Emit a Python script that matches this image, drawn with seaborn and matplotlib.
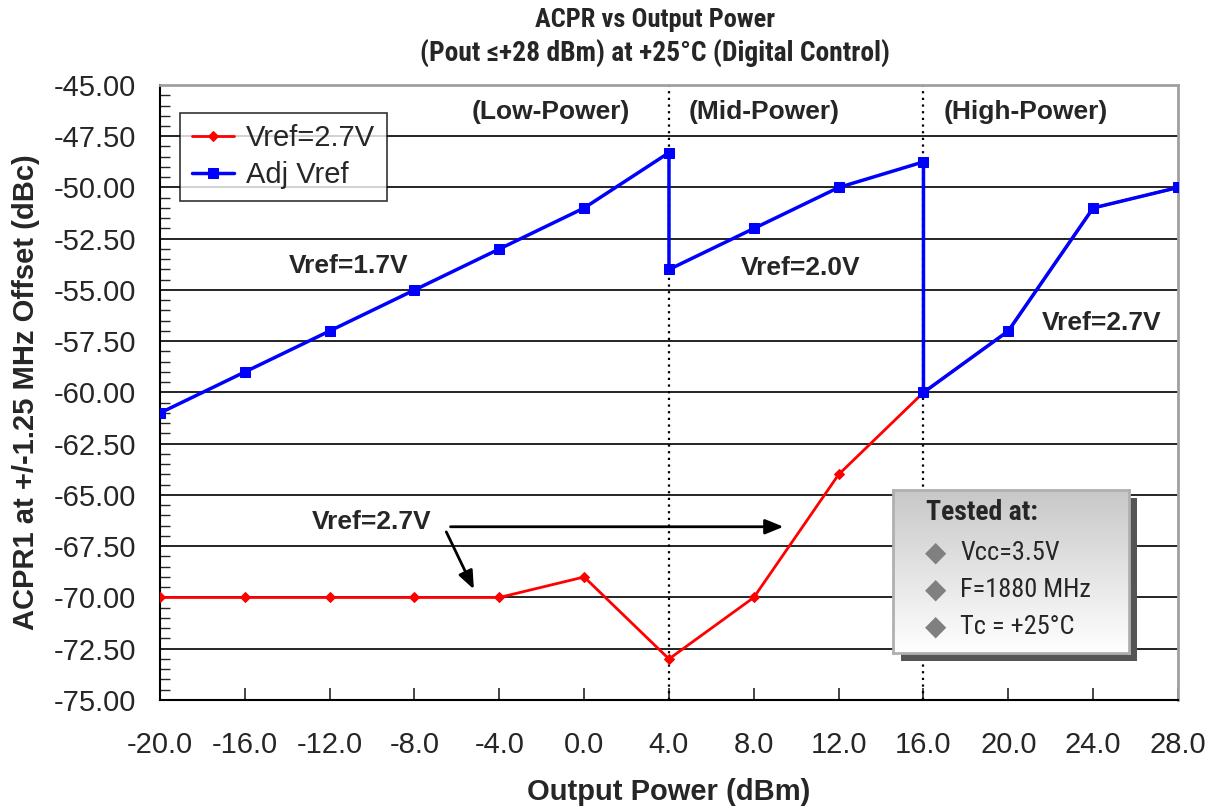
import matplotlib
matplotlib.use("Agg")
import matplotlib.pyplot as plt
import numpy as np
import seaborn as sns
from matplotlib.colors import LinearSegmentedColormap
from matplotlib.patches import Rectangle

# data
power_fixed = [-20, -16, -12, -8, -4, 0, 4, 8, 12, 16, 20, 24, 28]
acpr_fixed = [-70, -70, -70, -70, -70, -69, -73, -70, -64, -60, -57, -51, -50]

power_adj = [-20, -16, -12, -8, -4, 0, 4, 4, 8, 12, 16, 16, 20, 24, 28]
acpr_adj = [-61, -59, -57, -55, -53, -51, -48.3, -54, -52, -50, -48.75, -60, -57, -51, -50]

region_edges = [4, 16]
region_names = ["(Low-Power)", "(Mid-Power)", "(High-Power)"]
test_conditions = ["Vcc=3.5V", "F=1880 MHz", "Tc = +25\u00b0C"]

x_ticks = np.arange(-20, 29, 4)
y_ticks = np.arange(-75, -44, 2.5)

sns.set_style("white")
plt.rcParams["font.family"] = ["Liberation Sans", "DejaVu Sans"]
NARROW = ["Roboto Condensed", "PT Sans Narrow", "Liberation Sans", "DejaVu Sans"]

fig = plt.figure(figsize=(12.25, 8.08), dpi=100)
ax = fig.add_axes([0.1306, 0.1337, 0.831, 0.7611])

sns.lineplot(x=power_fixed, y=acpr_fixed, sort=False, estimator=None, color="#ff0000",
             marker="D", markersize=5, markeredgecolor="#ff0000", linewidth=2,
             label="Vref=2.7V", ax=ax, zorder=3)
sns.lineplot(x=power_adj, y=acpr_adj, sort=False, estimator=None, color="#0000ff",
             marker="s", markersize=6.5, markeredgecolor="#0000ff", linewidth=2.5,
             label="Adj Vref", ax=ax, zorder=4)

for edge in region_edges:
    ax.axvline(edge, color="black", linestyle=(0, (1, 2)), linewidth=1.6, zorder=2)

ax.set_xlim(-20, 28)
ax.set_ylim(-75, -45)
ax.set_xticks(x_ticks)
ax.set_xticklabels([f"{v:.1f}" for v in x_ticks])
ax.set_yticks(y_ticks)
ax.set_yticklabels([f"{v:.2f}" for v in y_ticks])
ax.set_yticks(np.arange(-75, -44.9, 0.5), minor=True)
ax.yaxis.grid(True, color="black", linewidth=1.2)
ax.tick_params(axis="y", which="major", direction="out", length=8, width=1.2,
               labelsize=21, pad=9)
ax.tick_params(axis="y", which="minor", direction="in", length=7, width=1, left=True)
ax.tick_params(axis="x", which="major", direction="in", length=9, width=1.2,
               labelsize=21, pad=22, bottom=True)

for side in ["left", "bottom"]:
    ax.spines[side].set_color("black")
    ax.spines[side].set_linewidth(1.5)
for side in ["top", "right"]:
    ax.spines[side].set_color("#a0a0a0")
    ax.spines[side].set_linewidth(2)

ax.set_xlabel("Output Power (dBm)", fontsize=21, fontweight="bold", labelpad=14)
ax.set_ylabel("ACPR1 at +/-1.25 MHz Offset (dBc)", fontsize=21, fontweight="bold",
              labelpad=10)
fig.text(0.535, 0.975, "ACPR vs Output Power", ha="center", va="center",
         fontsize=19, fontweight="bold", family=NARROW)
fig.text(0.535, 0.935, "(Pout \u2264+28 dBm) at +25\u00b0C (Digital Control)",
         ha="center", va="center", fontsize=19.8, fontweight="bold", family=NARROW)

# region labels and Vref annotations
ann_kw = dict(fontsize=19, fontweight="bold", ha="center", va="center", zorder=6)
ax.text(-1.55, -46.3, region_names[0], **ann_kw)
ax.text(8.5, -46.3, region_names[1], **ann_kw)
ax.text(20.8, -46.3, region_names[2], **ann_kw)
ax.text(-11.1, -53.85, "Vref=1.7V", **ann_kw)
ax.text(10.2, -53.95, "Vref=2.0V", **ann_kw)
ax.text(24.4, -56.6, "Vref=2.7V", **ann_kw)
ax.text(-10.0, -66.3, "Vref=2.7V", **ann_kw)

arrow_kw = dict(arrowstyle="-|>,head_length=1.1,head_width=0.45", color="black",
                lw=2, shrinkA=0, shrinkB=0)
ax.annotate("", xy=(9.4, -66.55), xytext=(-6.3, -66.55), arrowprops=arrow_kw, zorder=6)
ax.annotate("", xy=(-5.2, -69.6), xytext=(-6.5, -66.8), arrowprops=arrow_kw, zorder=6)

leg = ax.legend(loc="upper left", bbox_to_anchor=(0.02, 0.955), borderaxespad=0,
                fontsize=21, frameon=True, fancybox=False, handlelength=1.45,
                handletextpad=0.4, borderpad=0.4, labelspacing=0.3)
leg.get_frame().set_edgecolor("black")
leg.get_frame().set_linewidth(1.2)
leg.set_zorder(7)

# "Tested at" box with shadow and grey-to-white gradient
box = [0.729, 0.1918, 0.1926, 0.2017]
shadow = Rectangle((box[0] + 0.0065, box[1] - 0.0095), box[2], box[3],
                   transform=fig.transFigure, facecolor="#555555", edgecolor="none",
                   zorder=2)
fig.patches.append(shadow)
box_ax = fig.add_axes(box)
box_ax.set_zorder(3)
grad = LinearSegmentedColormap.from_list("grad", ["#c8c8c8", "#ffffff"])
box_ax.imshow(np.linspace(0, 1, 100).reshape(-1, 1), cmap=grad, aspect="auto",
              extent=[0, 1, 0, 1])
box_ax.set_xlim(0, 1)
box_ax.set_ylim(0, 1)
box_ax.set_xticks([])
box_ax.set_yticks([])
for sp in box_ax.spines.values():
    sp.set_color("#b0b0b0")
    sp.set_linewidth(2)
box_ax.text(0.14, 0.86, "Tested at:", fontsize=20, fontweight="bold", family=NARROW,
            va="center", ha="left")
for i, cond in enumerate(test_conditions):
    yy = 0.615 - i * 0.227
    box_ax.text(0.18, yy, "\u25c6", fontsize=20, color="#808080", family=["DejaVu Sans"],
                ha="center", va="center")
    box_ax.text(0.285, yy, cond, fontsize=19, family=NARROW, va="center", ha="left")

fig.savefig("out.png", dpi=100)
